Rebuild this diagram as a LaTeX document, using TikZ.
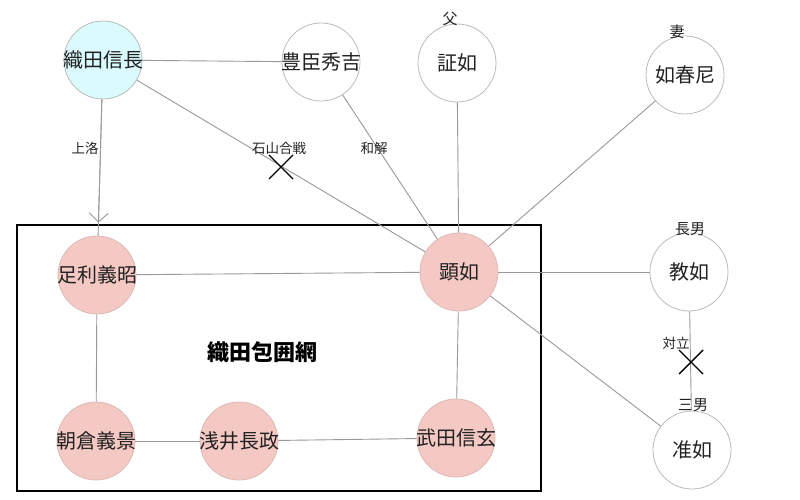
\documentclass[tikz,border=0pt]{standalone}
\usepackage{fontspec}
\setmainfont{Noto Sans CJK JP}
\usetikzlibrary{arrows.meta,calc}
\definecolor{cyanfill}{HTML}{DAFAFD}
\definecolor{pinkfill}{HTML}{F4C9C4}
\definecolor{edgegray}{HTML}{999999}
\definecolor{bordergray}{HTML}{BBBBBB}
\definecolor{txt}{HTML}{222222}
\tikzset{
  person/.style={circle, minimum size=78pt, inner sep=0pt, draw=bordergray, line width=0.8pt,
    fill=white, text=txt, font=\fontsize{20}{24}\selectfont},
  cyanp/.style={person, fill=cyanfill},
  pinkp/.style={person, fill=pinkfill, draw=pinkfill!80!gray},
  edge/.style={draw=edgegray, line width=0.9pt},
  elabel/.style={text=txt, font=\fontsize{13.5}{16}\selectfont, inner sep=0pt},
  rlabel/.style={text=txt, font=\fontsize{15}{18}\selectfont, inner sep=0pt},
  xmark/.style={draw=black, line width=1.4pt},
  groupbox/.style={draw=black, line width=1.3pt},
}
\newcommand{\nm}[1]{\makebox[0pt]{#1}}
\begin{document}
\begin{tikzpicture}[x=1pt,y=-1pt]
\useasboundingbox (0,0) rectangle (800,500);
\fill[white] (0,0) rectangle (800,500);
% group box
\draw[groupbox] (17,225) rectangle (541,491);
\node[text=black, font=\fontsize{22}{26}\selectfont\bfseries] (net) at (262,352) {織田包囲網};
% nodes
\node[cyanp] (oda) at (103,60) {\nm{織田信長}};
\node[person] (toyo) at (321,62) {\nm{豊臣秀吉}};
\node[person] (sho) at (457,63) {\nm{証如}};
\node[person] (nyo) at (685,75) {\nm{如春尼}};
\node[pinkp] (ken) at (459,272) {\nm{顕如}};
\node[pinkp] (ashi) at (97,275) {\nm{足利義昭}};
\node[pinkp] (asa) at (96,441) {\nm{朝倉義景}};
\node[pinkp] (azai) at (239,441) {\nm{浅井長政}};
\node[pinkp] (take) at (456,438) {\nm{武田信玄}};
\node[person] (kyo) at (689,272) {\nm{教如}};
\node[person] (jun) at (692,450) {\nm{准如}};
% role labels
\node[rlabel] (lfather) at (450,19) {父};
\node[rlabel] (lwife) at (677,32) {妻};
\node[rlabel] (lson1) at (690,229) {長男};
\node[rlabel] (lson3) at (693,405) {三男};
% edges
\draw[edge] (oda) -- (toyo);
\draw[edge] (oda) -- (ashi);
\draw[edge, -{Straight Barb[length=9pt,width=19pt,line width=0.9pt]}, shorten >=13pt] (oda) -- (ashi);
\draw[edge] (oda) -- (ken);
\draw[edge] (toyo) -- (ken);
\draw[edge] (sho) -- (ken);
\draw[edge] (nyo) -- (ken);
\draw[edge] (ken) -- (kyo);
\draw[edge] (ken) -- (jun);
\draw[edge] (kyo) -- (jun);
\draw[edge] (ashi) -- (ken);
\draw[edge] (ashi) -- (asa);
\draw[edge] (asa) -- (azai);
\draw[edge] (azai) -- (take);
\draw[edge] (ken) -- (take);
% edge labels
\node[elabel] (ljoraku) at (85,148) {上洛};
\node[elabel] (lishi) at (279,148) {石山合戦};
\node[elabel] (lwakai) at (374,148) {和解};
\node[elabel] (ltai) at (676,343) {対立};
% X marks
\coordinate (x1) at (281,167);
\coordinate (x2) at (691,362);
\draw[xmark] ($(x1)+(-12,-12)$) -- ($(x1)+(12,12)$);
\draw[xmark] ($(x1)+(-12,12)$) -- ($(x1)+(12,-12)$);
\draw[xmark] ($(x2)+(-12,-12)$) -- ($(x2)+(12,12)$);
\draw[xmark] ($(x2)+(-12,12)$) -- ($(x2)+(12,-12)$);
\end{tikzpicture}
\end{document}
